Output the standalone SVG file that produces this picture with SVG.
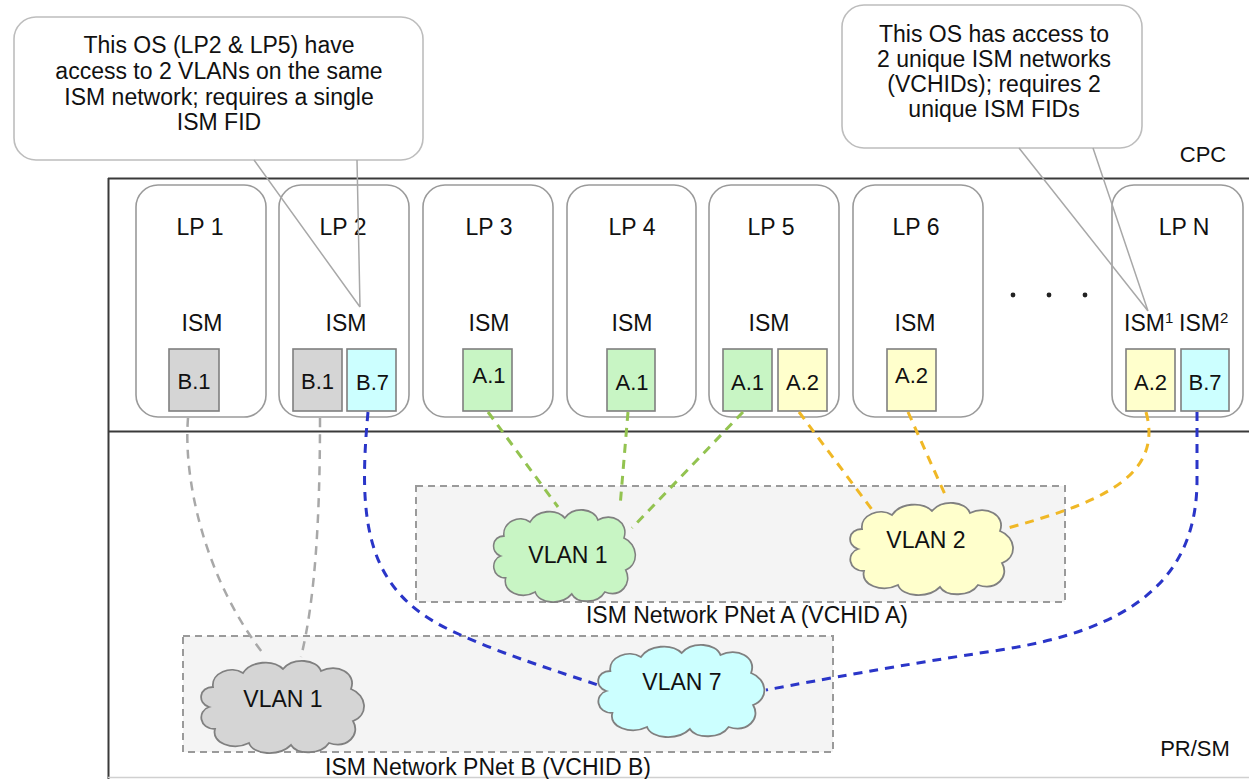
<svg xmlns="http://www.w3.org/2000/svg" width="1249" height="779" viewBox="0 0 1249 779">
<style>
text{font-family:"Liberation Sans",Arial,sans-serif;fill:#111;}
.t23{font-size:23px;text-anchor:middle;}
.t22{font-size:22px;text-anchor:middle;}
.lp{fill:#fff;stroke:#9a9a9a;stroke-width:1.6;}
.box{stroke:#7f7f7f;stroke-width:1.6;}
.gray{fill:#d5d5d5;}
.cyan{fill:#ccffff;}
.green{fill:#c8f5c4;}
.yellow{fill:#ffffcc;}
.net{fill:#f4f4f4;stroke:#9a9a9a;stroke-width:2;stroke-dasharray:7 5;}
.cloud{stroke:#808080;stroke-width:1.8;}
.conn{fill:none;stroke-width:3;stroke-dasharray:9 7;}
.cg{stroke:#a8a8a8;stroke-width:2.5;}
.cb{stroke:#2a35c8;}
.cgr{stroke:#93c350;}
.cy{stroke:#f0b826;}
.call{fill:#fff;stroke:#bdbdbd;stroke-width:1.6;}
.ptr{fill:none;stroke:#a8a8a8;stroke-width:1.5;}
.sup{font-size:15px;}
</style>
<defs>
<path id="cloudShape" d="M12,50 C0,46 2,30 16,30 C14,16 34,8 46,16 C54,4 76,2 86,12 C96,0 120,2 124,14 C140,6 160,16 154,32 C170,38 172,58 156,64 C164,78 150,92 132,86 C124,98 100,98 94,88 C82,100 56,98 52,86 C36,94 14,86 18,72 C2,72 0,54 12,50 Z"/>
</defs>
<rect width="1249" height="779" fill="#fff"/>

<g id="frame">
<line x1="108" y1="178.5" x2="1249" y2="178.5" stroke="#3a3a3a" stroke-width="2.2"/>
<line x1="108.5" y1="178" x2="108.5" y2="779" stroke="#3a3a3a" stroke-width="2"/>
<line x1="108" y1="431.5" x2="1249" y2="431.5" stroke="#3a3a3a" stroke-width="2.2"/>
<line x1="108" y1="777.5" x2="1249" y2="777.5" stroke="#d0d0d0" stroke-width="1.5"/>
<text x="1203" y="162" class="t22">CPC</text>
<text x="1195" y="756" class="t22">PR/SM</text>
</g>

<g id="pnetA">
<rect x="416" y="486" width="649" height="116" class="net"/>
<text x="747" y="623" class="t23">ISM Network PNet A (VCHID A)</text>
</g>
<g id="pnetB">
<rect x="183" y="636" width="650" height="116" class="net"/>
<text x="488" y="775" class="t23">ISM Network PNet B (VCHID B)</text>
</g>

<g id="lp1">
<rect x="136" y="185" width="130" height="232" rx="22" class="lp"/>
<text x="200" y="235" class="t23">LP 1</text>
<text x="202" y="331" class="t23">ISM</text>
<rect x="169" y="349" width="50" height="62" class="box gray"/>
<text x="194" y="389" class="t22">B.1</text>
</g>
<g id="lp2">
<rect x="279" y="185" width="130" height="232" rx="22" class="lp"/>
<text x="343" y="235" class="t23">LP 2</text>
<text x="346" y="331" class="t23">ISM</text>
<rect x="293" y="349" width="49" height="62" class="box gray"/>
<text x="317.5" y="389" class="t22">B.1</text>
<rect x="347" y="349" width="49" height="62" class="box cyan"/>
<text x="372.5" y="390" class="t22">B.7</text>
</g>
<g id="lp3">
<rect x="423" y="185" width="130" height="232" rx="22" class="lp"/>
<text x="489" y="235" class="t23">LP 3</text>
<text x="489" y="331" class="t23">ISM</text>
<rect x="463" y="349" width="49" height="62" class="box green"/>
<text x="489" y="383" class="t22">A.1</text>
</g>
<g id="lp4">
<rect x="567" y="185" width="129" height="232" rx="22" class="lp"/>
<text x="632" y="235" class="t23">LP 4</text>
<text x="632" y="331" class="t23">ISM</text>
<rect x="607" y="349" width="48" height="62" class="box green"/>
<text x="632" y="390" class="t22">A.1</text>
</g>
<g id="lp5">
<rect x="709" y="185" width="130" height="232" rx="22" class="lp"/>
<text x="771" y="235" class="t23">LP 5</text>
<text x="769" y="331" class="t23">ISM</text>
<rect x="723" y="349" width="49" height="62" class="box green"/>
<text x="747.5" y="390" class="t22">A.1</text>
<rect x="778" y="349" width="49" height="62" class="box yellow"/>
<text x="802.5" y="390" class="t22">A.2</text>
</g>
<g id="lp6">
<rect x="853" y="185" width="130" height="232" rx="22" class="lp"/>
<text x="916" y="235" class="t23">LP 6</text>
<text x="915" y="331" class="t23">ISM</text>
<rect x="887" y="349" width="49" height="62" class="box yellow"/>
<text x="911.5" y="383" class="t22">A.2</text>
</g>
<g id="dots">
<circle cx="1013" cy="295" r="2.4" fill="#222"/>
<circle cx="1049" cy="295" r="2.4" fill="#222"/>
<circle cx="1085" cy="295" r="2.4" fill="#222"/>
</g>
<g id="lpN">
<rect x="1112" y="185" width="131" height="232" rx="22" class="lp"/>
<text x="1184" y="235" class="t23">LP N</text>
<text x="1124" y="331" font-size="23">ISM<tspan class="sup" dy="-8">1</tspan></text>
<text x="1179" y="331" font-size="23">ISM<tspan class="sup" dy="-8">2</tspan></text>
<rect x="1126" y="349" width="49" height="62" class="box yellow"/>
<text x="1150.5" y="390" class="t22">A.2</text>
<rect x="1181" y="349" width="48" height="62" class="box cyan"/>
<text x="1205" y="390" class="t22">B.7</text>
</g>

<g id="connectors">
<path class="conn cg" d="M188,418 C183,480 205,580 265,656"/>
<path class="conn cg" d="M320,418 C320,520 315,600 301,657"/>
<path class="conn cb" d="M368,412 C358,520 365,590 450,630 C500,654 560,672 598,685"/>
<path class="conn cb" d="M1197,412 L1197,480 C1197,580 1130,630 1000,650 C900,665 820,680 766,690"/>
<path class="conn cgr" d="M488,412 L558,507"/>
<path class="conn cgr" d="M628,412 L620,507"/>
<path class="conn cgr" d="M743,412 L632,528"/>
<path class="conn cy" d="M799,412 L873,511"/>
<path class="conn cy" d="M908,412 L947,499"/>
<path class="conn cy" d="M1146,412 C1165,480 1090,505 1008,528"/>
</g>

<g id="vlan1A">
<use href="#cloudShape" class="cloud green" transform="translate(490,506) scale(0.87,1)"/>
<text x="568" y="563" class="t23">VLAN 1</text>
</g>
<g id="vlan2A">
<use href="#cloudShape" class="cloud yellow" transform="translate(846,499) scale(1.0,1)"/>
<text x="926" y="548" class="t23">VLAN 2</text>
</g>
<g id="vlan1B">
<use href="#cloudShape" class="cloud gray" transform="translate(197,657) scale(1.0,1)"/>
<text x="283" y="707" class="t23">VLAN 1</text>
</g>
<g id="vlan7B">
<use href="#cloudShape" class="cloud cyan" transform="translate(594,641) scale(1.02,1)"/>
<text x="682" y="690" class="t23">VLAN 7</text>
</g>

<g id="callout1">
<rect x="14" y="17" width="409" height="143" rx="22" class="call"/>
<path class="ptr" d="M254,160 L360,307 M357,160 L360,307"/>
<text class="t23"><tspan x="219" y="53">This OS (LP2 &amp; LP5) have</tspan><tspan x="219" y="79">access to 2 VLANs on the same</tspan><tspan x="219" y="105">ISM network; requires a single</tspan><tspan x="219" y="130">ISM FID</tspan></text>
</g>
<g id="callout2">
<rect x="842" y="5" width="300" height="143" rx="22" class="call"/>
<path class="ptr" d="M1019,148 L1148,311 M1093,148 L1148,311"/>
<text class="t23"><tspan x="994" y="42">This OS has access to</tspan><tspan x="994" y="67">2 unique ISM networks</tspan><tspan x="994" y="92">(VCHIDs); requires 2</tspan><tspan x="994" y="117">unique ISM FIDs</tspan></text>
</g>
</svg>
